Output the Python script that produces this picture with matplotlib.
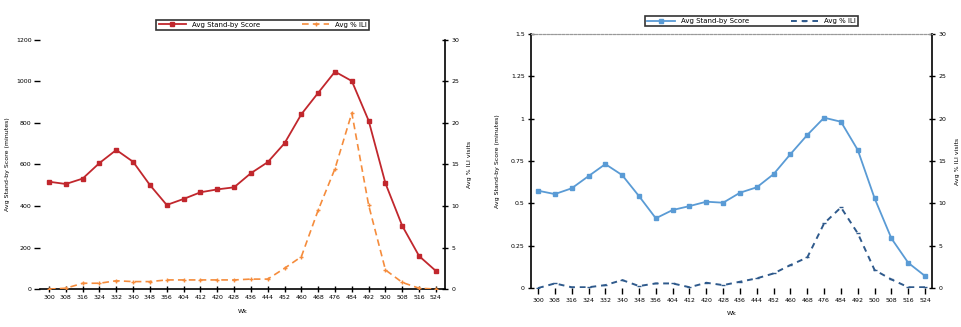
import matplotlib
matplotlib.use("Agg")
import matplotlib.pyplot as plt

# week labels along the x axis (shared by both panels)
weeks = ["300", "308", "316", "324", "332", "340", "348", "356", "404", "412", "420", "428",
         "436", "444", "452", "460", "468", "476", "484", "492", "500", "508", "516", "524"]

# left panel
score_a = [517, 506, 532, 607, 670, 613, 501, 405, 434, 466, 480, 490,
           558, 611, 702, 842, 945, 1047, 1002, 811, 509, 304, 159, 87]
pct_a = [0.0, 0.1, 0.7, 0.7, 1.0, 0.9, 0.9, 1.1, 1.1, 1.1, 1.1, 1.1,
         1.2, 1.2, 2.5, 3.9, 9.5, 14.5, 21.2, 10.1, 2.3, 0.8, 0.1, 0.0]

# right panel
score_b = [0.575, 0.555, 0.589, 0.661, 0.732, 0.667, 0.543, 0.412, 0.461, 0.484, 0.51, 0.504,
           0.563, 0.595, 0.673, 0.791, 0.904, 1.006, 0.982, 0.815, 0.530, 0.293, 0.149, 0.071]
pct_b = [0.0, 0.55, 0.1, 0.1, 0.35, 0.95, 0.24, 0.55, 0.55, 0.1, 0.63, 0.35,
         0.75, 1.15, 1.73, 2.72, 3.62, 7.64, 9.53, 6.46, 2.13, 1.02, 0.1, 0.1]

fs = 4.5
fig = plt.figure(figsize=(9.61, 3.27), dpi=100)
x = list(range(len(weeks)))

# ---- left chart
ax1 = fig.add_axes([0.0416, 0.116, 0.4214, 0.762])
ax1r = ax1.twinx()
l1, = ax1.plot(x, score_a, color="#c1272d", lw=1.3, marker="s", ms=3.5, label="Avg Stand-by Score")
l2, = ax1r.plot(x, pct_a, color="#f58c3c", lw=1.2, ls=(0, (4, 2.5)), marker="+", ms=3.5,
                label="Avg % ILI")
ax1.set_xlim(-0.535, 23.535)
ax1.set_ylim(0, 1200)
ax1.set_yticks(range(0, 1201, 200))
ax1r.set_ylim(0, 30)
ax1r.set_yticks(range(0, 31, 5))
ax1.set_xticks(x)
ax1.set_xticklabels(weeks, fontsize=fs)
for s in ["top", "left"]:
    ax1.spines[s].set_visible(False)
    ax1r.spines[s].set_visible(False)
ax1r.spines["bottom"].set_visible(False)
ax1.spines["right"].set_visible(False)
ax1r.spines["right"].set_linewidth(1.2)
ax1.spines["bottom"].set_linewidth(1.2)
ax1.tick_params(axis="x", direction="inout", length=5, width=1, pad=2)
ax1.tick_params(axis="y", direction="out", length=4, width=1, labelsize=fs, pad=2)
ax1r.tick_params(axis="y", direction="inout", length=5, width=1, labelsize=fs, pad=2)
ax1.set_xlabel("Wk", fontsize=fs, labelpad=6)
ax1.set_ylabel("Avg Stand-by Score (minutes)", fontsize=fs, labelpad=4)
ax1r.set_ylabel("Avg % ILI visits", fontsize=fs, labelpad=6)
leg1 = ax1.legend(handles=[l1, l2], loc="lower center", bbox_to_anchor=(0.55, 1.04), ncol=2,
                  fontsize=fs + 0.5, frameon=True, fancybox=False, edgecolor="black",
                  handlelength=4, columnspacing=6, borderpad=0.3, borderaxespad=0)
leg1.get_frame().set_linewidth(1.2)

# ---- right chart
ax2 = fig.add_axes([0.5525, 0.119, 0.4175, 0.777])
ax2r = ax2.twinx()
l3, = ax2.plot(x, score_b, color="#5a9bd5", lw=1.3, marker="s", ms=3.5, label="Avg Stand-by Score")
l4, = ax2r.plot(x, pct_b, color="#2f5a8c", lw=1.4, ls=(0, (3, 2.5)), marker="_", ms=3.5,
                label="Avg % ILI")
ax2.set_xlim(-0.42, 23.42)
ax2.set_ylim(0, 1.5)
ax2.set_yticks([0, 0.25, 0.5, 0.75, 1, 1.25, 1.5])
ax2.set_yticklabels(["0", "0.25", "0.5", "0.75", "1", "1.25", "1.5"])
ax2r.set_ylim(0, 30)
ax2r.set_yticks(range(0, 31, 5))
ax2.set_xticks(x)
ax2.set_xticklabels(weeks, fontsize=fs)
for a in (ax2, ax2r):
    a.spines["bottom"].set_visible(False)
    a.spines["top"].set_color("#999999")
    a.spines["top"].set_linestyle((0, (2, 1.5)))
    a.spines["top"].set_linewidth(0.8)
ax2.spines["left"].set_linewidth(1.2)
ax2r.spines["right"].set_linewidth(1.2)
ax2.spines["right"].set_visible(False)
ax2r.spines["left"].set_visible(False)
ax2.tick_params(axis="x", direction="out", length=4, width=1, pad=3)
ax2.tick_params(axis="y", direction="inout", length=5, width=1, labelsize=fs, pad=2)
ax2r.tick_params(axis="y", direction="inout", length=5, width=1, labelsize=fs, pad=2)
ax2.set_xlabel("Wk", fontsize=fs, labelpad=6)
ax2.set_ylabel("Avg Stand-by Score (minutes)", fontsize=fs, labelpad=8)
ax2r.set_ylabel("Avg % ILI visits", fontsize=fs, labelpad=6)
leg2 = ax2.legend(handles=[l3, l4], loc="lower center", bbox_to_anchor=(0.55, 1.03), ncol=2,
                  fontsize=fs + 0.5, frameon=True, fancybox=False, edgecolor="black",
                  handlelength=4, columnspacing=6, borderpad=0.3, borderaxespad=0)
leg2.get_frame().set_linewidth(1.2)

fig.savefig("out.png", dpi=100)
